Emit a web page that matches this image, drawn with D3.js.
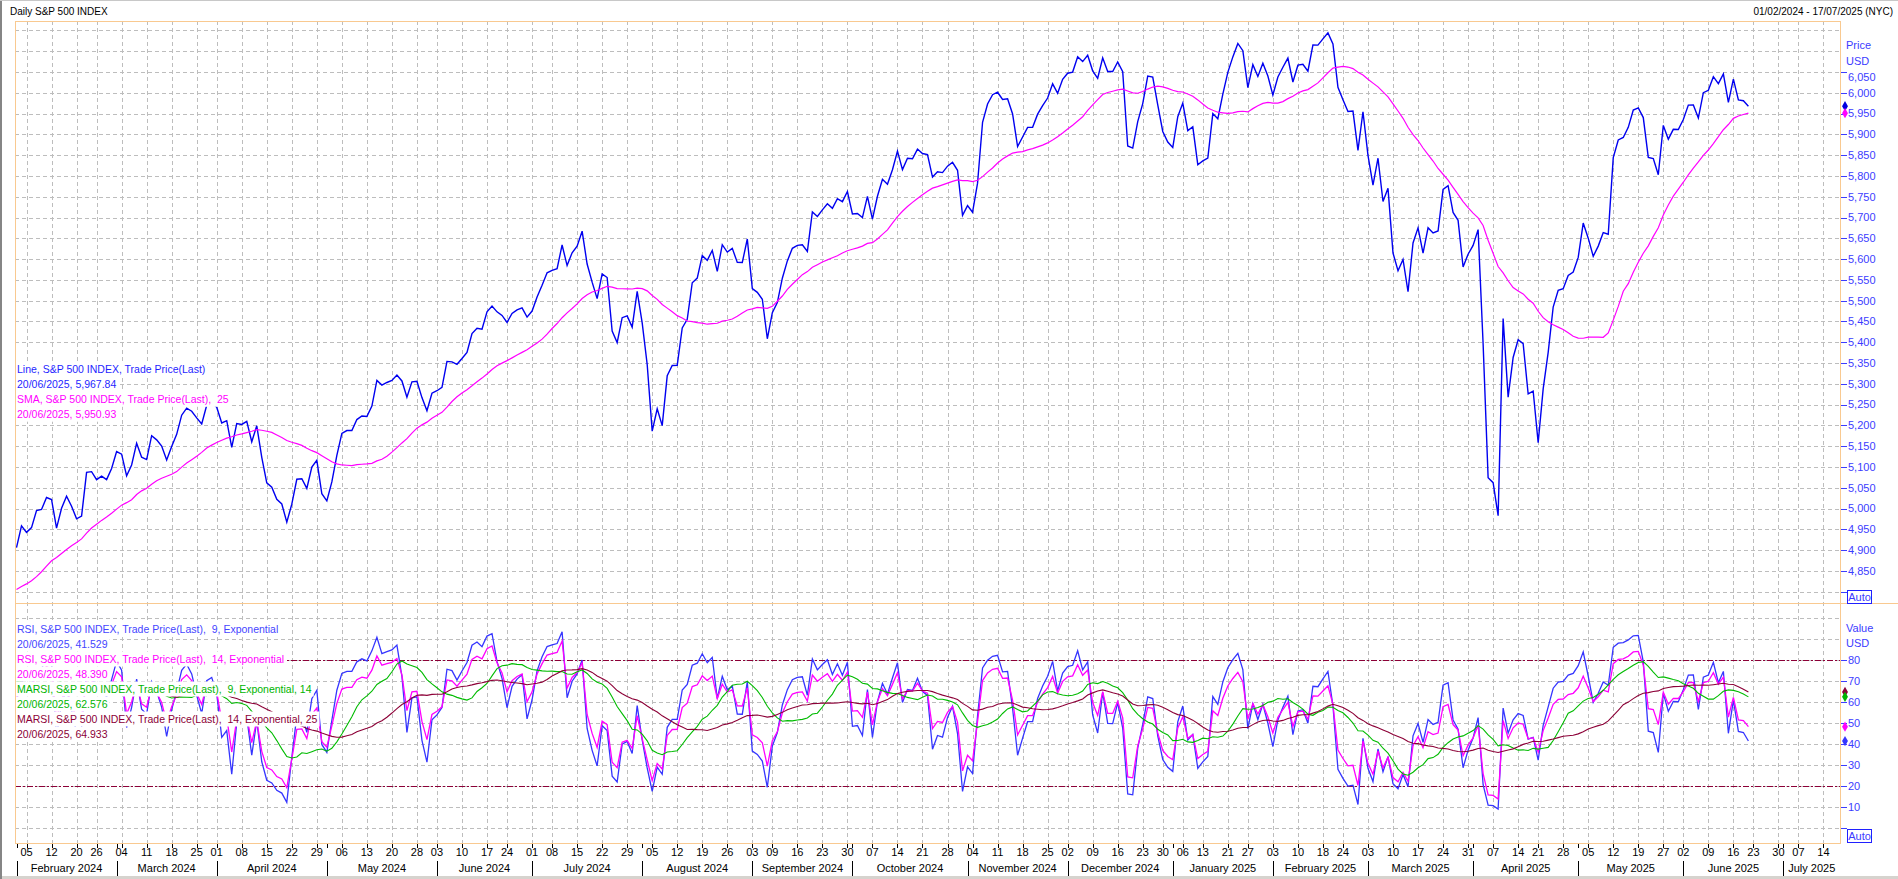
<!DOCTYPE html>
<html><head><meta charset="utf-8">
<script src="https://cdn.jsdelivr.net/npm/d3@7"></script>
<style>
html,body{margin:0;padding:0;background:#fff;overflow:hidden}
svg{display:block;font-family:"Liberation Sans",Arial,sans-serif}
text{white-space:pre}
</style></head><body>
<svg id="chart" width="1898" height="879"></svg>
<script>
// ---------- DATA ----------
// Daily closes (warm-up history for the indicators, then the displayed range 01/02/2024 - 20/06/2025)
const nov2023 = [4237.86,4317.78,4358.34,4365.98,4378.38,4382.78,4347.35,4415.24,4411.55,4495.70,4502.88,4508.24,4514.02,4547.38,4538.19,4556.62,4559.34,4550.43,4554.89,4550.58,4567.80];
const dec2023 = [4594.63,4569.78,4567.18,4549.34,4585.59,4604.37,4622.44,4643.70,4707.09,4719.55,4719.19,4740.56,4768.37,4698.35,4746.75,4754.63,4774.75,4781.58,4783.35,4769.83];
const jan2024 = [4742.83,4704.81,4688.68,4697.24,4763.54,4756.50,4783.45,4780.24,4783.83,4765.98,4739.21,4780.94,4839.81,4850.43,4864.60,4868.55,4894.16,4890.97,4927.93,4924.97,4845.65];
const feb2024 = [4906.19,4958.61,4942.81,4954.23,4995.06,4997.91,5026.61,5021.84,4953.17,5000.62,5029.73,5005.57,4975.51,4981.80,5087.03,5088.80,5069.53,5078.18,5069.76,5096.27];
const mar2024 = [5137.08,5130.95,5078.65,5104.76,5157.36,5123.69,5117.94,5175.27,5165.31,5150.48,5117.09,5149.42,5178.51,5224.62,5241.53,5234.18,5218.19,5203.58,5248.49,5254.35];
const apr2024 = [5243.77,5205.81,5211.49,5147.21,5204.34,5202.39,5209.91,5160.64,5199.06,5123.41,5061.82,5051.41,5022.21,5011.12,4967.23,5010.60,5070.55,5071.63,5048.42,5099.96,5116.17,5035.69];
const may2024 = [5018.39,5064.20,5127.79,5180.74,5187.70,5187.67,5214.08,5222.68,5221.42,5246.68,5308.15,5297.10,5303.27,5308.13,5321.41,5307.01,5267.84,5304.72,5306.04,5266.95,5235.48,5277.51];
const jun2024 = [5283.40,5291.34,5354.03,5352.96,5346.99,5360.79,5375.32,5421.03,5433.74,5431.60,5473.23,5487.03,5473.17,5464.62,5447.87,5469.30,5477.90,5482.87,5460.48];
const jul2024 = [5475.09,5509.01,5537.02,5567.19,5572.85,5576.98,5633.91,5584.54,5615.35,5631.22,5667.20,5588.27,5544.59,5505.00,5564.41,5555.74,5427.13,5399.22,5459.10,5463.54,5436.44,5522.30];
const aug2024 = [5446.68,5346.56,5186.33,5240.03,5199.50,5319.31,5344.16,5344.39,5434.43,5455.21,5543.22,5554.25,5608.25,5597.12,5620.85,5570.64,5634.61,5616.84,5625.80,5592.18,5591.96,5648.40];
const sep2024 = [5528.93,5520.07,5503.41,5408.42,5471.05,5495.52,5554.13,5595.76,5626.02,5633.09,5634.58,5618.26,5713.64,5702.55,5718.57,5732.93,5722.26,5745.37,5738.17,5762.48];
const oct2024 = [5708.75,5709.54,5699.94,5751.07,5695.94,5751.13,5792.04,5780.05,5815.03,5859.85,5815.26,5842.47,5841.47,5864.67,5853.98,5851.20,5797.42,5809.86,5808.12,5823.52,5832.92,5813.67,5705.45];
const nov2024 = [5728.80,5712.69,5782.76,5929.04,5973.10,5995.54,6001.35,5983.99,5985.38,5949.17,5870.62,5893.62,5916.98,5917.11,5948.71,5969.34,5987.37,6021.63,5998.74,6032.38];
const dec2024 = [6047.15,6049.88,6086.49,6075.11,6090.27,6052.85,6034.91,6084.19,6051.25,6051.09,6074.08,6050.61,5872.16,5867.08,5930.85,5974.07,6040.04,6037.59,5970.84,5906.94,5881.63];
const jan2025 = [5868.55,5942.47,5975.38,5909.03,5918.25,5827.04,5836.22,5842.91,5949.91,5937.34,5996.66,6049.24,6086.37,6118.71,6101.24,6012.28,6067.70,6039.31,6071.17,6040.53];
const feb2025 = [5994.57,6037.88,6061.48,6083.57,6025.99,6066.44,6068.50,6051.97,6115.07,6114.63,6129.58,6144.15,6117.52,6013.13,5983.25,5955.25,5956.06,5861.57,5954.50];
const mar2025 = [5849.72,5778.15,5842.63,5738.52,5770.20,5614.56,5572.07,5599.30,5521.52,5638.94,5675.12,5614.66,5675.29,5662.89,5667.56,5767.57,5776.65,5712.20,5693.31,5580.94,5611.85];
const apr2025 = [5633.07,5670.97,5396.52,5074.08,5062.25,4982.77,5456.90,5268.05,5363.36,5405.97,5396.63,5275.70,5282.70,5158.20,5287.76,5375.86,5484.77,5525.21,5528.75,5560.83,5569.06];
const may2025 = [5604.14,5686.67,5650.38,5606.91,5631.28,5663.94,5659.91,5844.19,5886.55,5892.58,5916.93,5958.38,5963.60,5940.46,5844.61,5842.01,5802.82,5921.54,5888.55,5912.17,5911.69];
const jun2025 = [5935.94,5970.37,5970.81,5939.30,6000.36,6005.88,6038.81,6022.24,6045.26,5976.97,6033.11,5982.72,5980.87,5967.84];

// Exchange calendar (trading days only; weekends and these holidays are skipped on the axis)
const holidays = ["2023-11-23","2023-12-25","2024-01-01","2024-01-15","2024-02-19","2024-03-29","2024-05-27","2024-06-19","2024-07-04","2024-09-02","2024-11-28","2024-12-25","2025-01-01","2025-01-09","2025-01-20","2025-02-17","2025-04-18","2025-05-26","2025-06-19","2025-07-04"];
const calendarStart = "2023-11-01", displayStart = "2024-02-01", displayEnd = "2025-07-17";

// Axis ticks
const priceTicks = [4850,4900,4950,5000,5050,5100,5150,5200,5250,5300,5350,5400,5450,5500,5550,5600,5650,5700,5750,5800,5850,5900,5950,6000,6050];
const priceGrid = [4800,4850,4900,4950,5000,5050,5100,5150,5200,5250,5300,5350,5400,5450,5500,5550,5600,5650,5700,5750,5800,5850,5900,5950,6000,6050,6100,6150];
const valueTicks = [10,20,30,40,50,60,70,80];
const valueGrid = [0,10,20,30,40,50,60,70,80,90,100];
const rsiBands = [80,20];

// Indicator settings (as named in the legend)
const smaPeriod = 25;
const rsiPeriods = [9,14];
const marsiPeriods = [14,25];

// Legend texts (as displayed)
const priceLegend = ["Line, S&P 500 INDEX, Trade Price(Last)","20/06/2025, 5,967.84","SMA, S&P 500 INDEX, Trade Price(Last),  25","20/06/2025, 5,950.93"];
const rsiLegend = ["RSI, S&P 500 INDEX, Trade Price(Last),  9, Exponential","20/06/2025, 41.529","RSI, S&P 500 INDEX, Trade Price(Last),  14, Exponential","20/06/2025, 48.390","MARSI, S&P 500 INDEX, Trade Price(Last),  9, Exponential, 14","20/06/2025, 62.576","MARSI, S&P 500 INDEX, Trade Price(Last),  14, Exponential, 25","20/06/2025, 64.933"];
const lastValues = [5967.84, 5950.93, 41.529, 48.390, 62.576, 64.933];

// ---------- BUILD ----------
const closes = [].concat(nov2023,dec2023,jan2024,feb2024,mar2024,apr2024,may2024,jun2024,jul2024,aug2024,sep2024,oct2024,nov2024,dec2024,jan2025,feb2025,mar2025,apr2025,may2025,jun2025);
const fmt = d3.utcFormat("%Y-%m-%d");
const days = d3.utcDay.range(new Date(calendarStart), d3.utcDay.offset(new Date(displayEnd),1))
  .filter(d => d.getUTCDay()%6 !== 0 && !holidays.includes(fmt(d)));
const idx0 = days.findIndex(d => fmt(d) === displayStart);

function smaSeries(c,n){return c.map((v,i)=> (i<n-1 || c[i-n+1]==null)?null:d3.mean(c.slice(i-n+1,i+1)));}
function rsiSeries(c,n){ // exponential RSI, alpha = 2/(n+1)
  const alpha=2/(n+1), out=c.map(()=>null); let g=0,l=0;
  for(let i=1;i<c.length;i++){
    const d=c[i]-c[i-1], up=d>0?d:0, dn=d<0?-d:0;
    if(i<=n){g+=up/n;l+=dn/n;} else {g+=alpha*(up-g);l+=alpha*(dn-l);}
    if(i>=n) out[i]= l===0?100:100-100/(1+g/l);
  }
  return out;
}
const sma25 = smaSeries(closes,smaPeriod);
const rsi9 = rsiSeries(closes,rsiPeriods[0]), rsi14 = rsiSeries(closes,rsiPeriods[1]);
const marsi9 = smaSeries(rsi9,marsiPeriods[0]), marsi14 = smaSeries(rsi14,marsiPeriods[1]);

// ---------- DRAW ----------
const svg = d3.select("#chart");
const P = {left:15,right:1840,top:21,mid:603,bottom:843};
const lastPos = days.length-1-idx0;
const x = d3.scaleLinear().domain([-0.3,lastPos+0.3]).range([P.left,P.right]);
const yP = d3.scaleLinear().domain([4772.9,6172.7]).range([P.mid,P.top]);
const yV = d3.scaleLinear().domain([-7.05,107.3]).range([P.bottom,P.mid]);
const ORANGE="#f9c990", GRID="#bdbdbd", AXB="#3c3cff";

svg.append("rect").attr("width",1898).attr("height",879).attr("fill","#fff");
svg.append("rect").attr("x",0).attr("y",876).attr("width",1898).attr("height",3).attr("fill","#d6d3ce");
svg.append("rect").attr("x",0).attr("y",0).attr("width",2).attr("height",879).attr("fill","#858585");
svg.append("line").attr("x1",0).attr("x2",1898).attr("y1",0.5).attr("y2",0.5).attr("stroke","#c8c8c8");

svg.append("text").attr("x",10).attr("y",11).attr("dy","0.35em").attr("font-size",10).attr("fill","#000").text("Daily S&P 500 INDEX");
svg.append("text").attr("x",1893).attr("y",11).attr("dy","0.35em").attr("font-size",10).attr("text-anchor","end").attr("fill","#000").text("01/02/2024 - 17/07/2025 (NYC)");

const dayInfo = days.map((d,i)=>({d, pos:i-idx0, i}));
const shown = dayInfo.filter(o=>o.pos>=0);
const weekStarts = shown.filter(o=> o.i>0 && days[o.i-1] < d3.utcMonday.floor(o.d));
const monthStarts = shown.filter(o=> o.i>0 && days[o.i-1].getUTCMonth() !== o.d.getUTCMonth());

// grid
const g = svg.append("g");
g.selectAll(".vg").data(weekStarts).join("line").attr("x1",o=>Math.round(x(o.pos))+0.5).attr("x2",o=>Math.round(x(o.pos))+0.5)
 .attr("y1",P.top).attr("y2",P.bottom).attr("stroke",GRID).attr("stroke-dasharray","4,3");
g.selectAll(".hg").data(priceGrid).join("line").attr("x1",P.left).attr("x2",P.right).attr("y1",v=>Math.round(yP(v))+0.5).attr("y2",v=>Math.round(yP(v))+0.5)
 .attr("stroke",GRID).attr("stroke-dasharray","4,3");
g.selectAll(".hv").data(valueGrid).join("line").attr("x1",P.left).attr("x2",P.right).attr("y1",v=>Math.round(yV(v))+0.5).attr("y2",v=>Math.round(yV(v))+0.5)
 .attr("stroke",GRID).attr("stroke-dasharray","4,3");
g.selectAll(".band").data(rsiBands).join("line").attr("x1",P.left).attr("x2",P.right).attr("y1",v=>Math.round(yV(v))+0.5).attr("y2",v=>Math.round(yV(v))+0.5)
 .attr("stroke","#8c0037").attr("stroke-width",1.2).attr("stroke-dasharray","6,2,2,2");

const defs = svg.append("defs");
defs.append("clipPath").attr("id","cp1").append("rect").attr("x",P.left).attr("y",P.top).attr("width",P.right-P.left).attr("height",P.mid-P.top);
defs.append("clipPath").attr("id","cp2").append("rect").attr("x",P.left).attr("y",P.mid).attr("width",P.right-P.left).attr("height",P.bottom-P.mid);

function series(arr){ return shown.filter(o=>o.i<arr.length && arr[o.i]!=null).map(o=>({pos:o.pos,v:arr[o.i]})); }
const lineP = d3.line().x(d=>x(d.pos)).y(d=>yP(d.v));
const lineV = d3.line().x(d=>x(d.pos)).y(d=>yV(d.v));
const gp = svg.append("g").attr("clip-path","url(#cp1)").attr("fill","none");
gp.append("path").attr("d",lineP(series(closes))).attr("stroke","#0000f0").attr("stroke-width",1.4);
gp.append("path").attr("d",lineP(series(sma25))).attr("stroke","#ff00ff").attr("stroke-width",1.2);
const gv = svg.append("g").attr("clip-path","url(#cp2)").attr("fill","none");
gv.append("path").attr("d",lineV(series(rsi9))).attr("stroke","#3535ff").attr("stroke-width",1.3);
gv.append("path").attr("d",lineV(series(rsi14))).attr("stroke","#ff00ff").attr("stroke-width",1.3);
gv.append("path").attr("d",lineV(series(marsi9))).attr("stroke","#00bb00").attr("stroke-width",1.1);
gv.append("path").attr("d",lineV(series(marsi14))).attr("stroke","#8c0037").attr("stroke-width",1.1);

// legends (each row on its own white background)
function legend(rows, colors, y0, dy){
  rows.forEach((t,k)=>{
    const gg = svg.append("g");
    const tx = gg.append("text").attr("x",17).attr("y",y0+k*dy).attr("dy","0.35em").attr("font-size",10.5).attr("fill",colors[k]).text(t);
    const b = tx.node().getBBox();
    gg.insert("rect","text").attr("x",P.left+1).attr("y",y0+k*dy-7.5).attr("width",b.x+b.width-P.left+1).attr("height",15).attr("fill","#fff");
  });
}
legend(priceLegend,["#1f1fff","#1f1fff","#ff00ff","#ff00ff"],369.5,14.9);
legend(rsiLegend,["#4545ff","#4545ff","#ff00ff","#ff00ff","#00b400","#00b400","#8c0037","#8c0037"],629,15);

// frame
const fr = svg.append("g").attr("stroke",ORANGE).attr("fill","none");
fr.append("line").attr("x1",P.left).attr("x2",P.right).attr("y1",P.top+0.5).attr("y2",P.top+0.5);
fr.append("line").attr("x1",P.left+0.5).attr("x2",P.left+0.5).attr("y1",P.top).attr("y2",P.bottom);
fr.append("line").attr("x1",P.right+0.5).attr("x2",P.right+0.5).attr("y1",P.top).attr("y2",P.bottom);
fr.append("line").attr("x1",P.left).attr("x2",1898).attr("y1",P.mid+0.5).attr("y2",P.mid+0.5);
fr.append("line").attr("x1",P.left).attr("x2",P.right+1).attr("y1",P.bottom+0.5).attr("y2",P.bottom+0.5);

// right axes
const ax = svg.append("g").attr("font-size",11).attr("fill",AXB);
ax.selectAll(".pt").data(priceGrid.filter(v=>v<=6050)).join("line").attr("x1",P.right+1).attr("x2",P.right+7)
 .attr("y1",v=>Math.round(yP(v))+0.5).attr("y2",v=>Math.round(yP(v))+0.5).attr("stroke",AXB);
ax.selectAll(".pl").data(priceTicks).join("text").attr("x",1848).attr("y",v=>yP(v)+(v===6050?5:0)).attr("dy","0.35em").text(d3.format(","));
ax.selectAll(".vt").data(valueGrid.filter(v=>v<=80)).join("line").attr("x1",P.right+1).attr("x2",P.right+7)
 .attr("y1",v=>Math.round(yV(v))+0.5).attr("y2",v=>Math.round(yV(v))+0.5).attr("stroke",AXB);
ax.selectAll(".vl").data(valueTicks).join("text").attr("x",1848).attr("y",v=>yV(v)).attr("dy","0.35em").text(d=>d);
[["Price",45],["USD",61],["Value",628],["USD",643]].forEach(([t,y])=>ax.append("text").attr("x",1846).attr("y",y).attr("dy","0.35em").text(t));
[590,829].forEach(y=>{
  ax.append("rect").attr("x",1847.5).attr("y",y+0.5).attr("width",24).attr("height",13).attr("fill","#fff").attr("stroke","#2020ff");
  ax.append("text").attr("x",1859.5).attr("y",y+7).attr("dy","0.35em").attr("text-anchor","middle").text("Auto");
});
// last-value diamonds
const diamond = d3.symbol().type(d3.symbolDiamond).size(30);
[[yP(lastValues[0]),"#0000e0"],[yP(lastValues[1]),"#ff00ff"],[yV(lastValues[5]),"#8c0037"],[yV(lastValues[4]),"#00b400"],[yV(lastValues[3]),"#ff00ff"],[yV(lastValues[2]),"#3535ff"]]
 .forEach(([y,c])=>svg.append("path").attr("d",diamond).attr("transform",`translate(1845,${y})`).attr("fill",c));

// bottom axis
const bx = svg.append("g").attr("font-size",11).attr("fill","#000");
bx.selectAll(".wt").data(weekStarts.concat(monthStarts)).join("line").attr("x1",o=>Math.round(x(o.pos))+0.5).attr("x2",o=>Math.round(x(o.pos))+0.5)
 .attr("y1",P.bottom+1).attr("y2",P.bottom+5).attr("stroke","#000");
bx.selectAll(".wl").data(weekStarts).join("text").attr("x",o=>x(o.pos)).attr("y",852).attr("dy","0.35em").attr("text-anchor","middle").text(o=>d3.utcFormat("%d")(o.d));
const firstMonth = [shown[0]].concat(monthStarts.filter(o=>o.pos>0));
firstMonth.forEach((o,k)=>{
  const xa = x(o.pos), xb = k<firstMonth.length-1 ? x(firstMonth[k+1].pos) : P.right;
  bx.append("line").attr("x1",Math.round(xa)+0.5).attr("x2",Math.round(xa)+0.5).attr("y1",861).attr("y2",876).attr("stroke","#000");
  bx.append("text").attr("x",(xa+xb)/2).attr("y",868).attr("dy","0.35em").attr("text-anchor","middle").text(d3.utcFormat("%B %Y")(o.d));
});
</script>
</body></html>
